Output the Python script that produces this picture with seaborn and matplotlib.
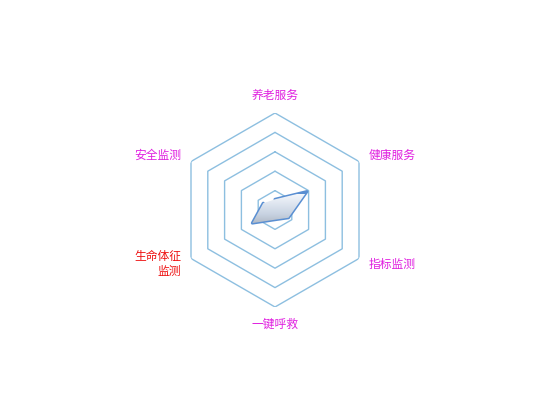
import numpy as np
import seaborn as sns
import matplotlib.pyplot as plt
from matplotlib.colors import LinearSegmentedColormap

categories = ['养老服务', '健康服务', '指标监测', '一键呼救', '生命体征\n监测', '安全监测']
label_colors = ['#e020e0', '#e020e0', '#e020e0', '#e020e0', '#ee1111', '#e020e0']
values = [11, 38, 16, 10, 27, 14]
rings = [20, 40, 60, 80, 100]

sns.set_theme(style='white')
plt.rcParams['font.family'] = ['Noto Sans CJK SC', 'DejaVu Sans']

fig = plt.figure(figsize=(5.5, 4.2), dpi=100)
w, h = 194 / 550, 194 / 420
ax = fig.add_axes([0.5 - w / 2, 0.5 - h / 2, w, h], projection='polar')
ax.set_theta_zero_location('N')
ax.set_theta_direction(-1)
ax.set_ylim(0, 100)
ax.grid(False)
ax.spines['polar'].set_visible(False)
ax.set_xticks([])
ax.set_yticks([])
ax.patch.set_alpha(0)

n = len(categories)
theta = np.linspace(0, 2 * np.pi, n, endpoint=False)
theta_c = np.append(theta, theta[0])

# hexagon rings
for r in rings:
    ax.plot(theta_c, [r] * (n + 1), color='#8dbfe0', lw=1)

# data polygon with gradient fill
vals_c = values + values[:1]
patch = ax.fill(theta_c, vals_c, color='none', zorder=3)[0]
sns.lineplot(x=theta_c, y=vals_c, sort=False, ax=ax, color='#5a8fd2', lw=2.2, zorder=4)

ax2 = fig.add_axes(ax.get_position(), frameon=False)
ax2.axis('off')
cmap = LinearSegmentedColormap.from_list('g', ['#f4f7fc', '#c8d3e2', '#969ca6'])
grad = np.linspace(0, 1, 256).reshape(-1, 1)
im = ax2.imshow(grad, extent=[-100, 100, -25, 16], origin='upper', cmap=cmap,
                aspect='auto', zorder=2)
im.set_clip_path(patch)
ax2.set_xlim(-100, 100)
ax2.set_ylim(-100, 100)

# labels
for t, lab, col in zip(theta, categories, label_colors):
    s = np.sin(t)
    if abs(s) < 0.1:
        ha, r = 'center', 118
    elif s > 0:
        ha, r = 'left', 112
    else:
        ha, r = 'right', 112
    ax.text(t, r, lab, ha=ha, va='center', color=col, fontsize=8.5,
            multialignment='right')

fig.savefig('out.png', dpi=100)
